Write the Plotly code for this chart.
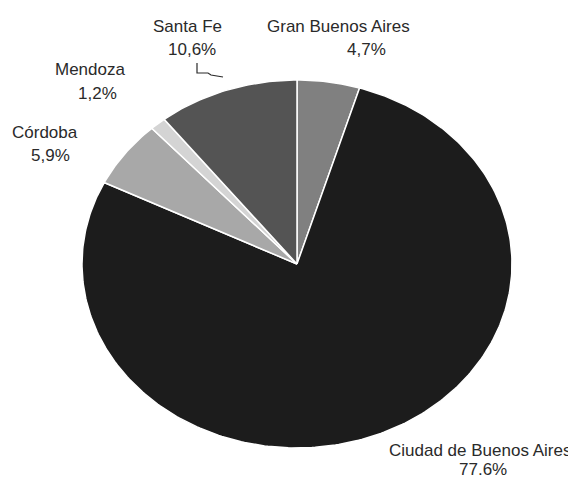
import numpy as np
import plotly.graph_objects as go

# Data (clockwise from 12 o'clock)
regions = ["Gran Buenos Aires", "Ciudad de Buenos Aires", "Córdoba", "Mendoza", "Santa Fe"]
shares = [4.7, 77.6, 5.9, 1.2, 10.6]
share_labels = ["4,7%", "77.6%", "5,9%", "1,2%", "10,6%"]
colors = ["#808080", "#1c1c1c", "#a8a8a8", "#d4d4d4", "#545454"]

W, H = 576, 481
OFF = 8  # page body margin
cx, cy, rx, ry = 297, 264, 215, 184

fig = go.Figure()
total = sum(shares)
start = 0.0
for name, v, c in zip(regions, shares, colors):
    end = start + v / total
    t = np.linspace(start, end, max(int((end - start) * 400), 8)) * 2 * np.pi
    xs = np.concatenate([[cx], cx + rx * np.sin(t), [cx]])
    ys = np.concatenate([[cy], cy - ry * np.cos(t), [cy]])
    fig.add_trace(go.Scatter(x=xs, y=ys, mode="lines", fill="toself",
                             fillcolor=c, line=dict(color="white", width=1.5),
                             name=name, hoverinfo="name", showlegend=False))
    start = end

# Label placement (name line, percent line), window pixels, with x anchors
name_pos = {
    "Gran Buenos Aires": (338, 26, "center"),
    "Ciudad de Buenos Aires": (573, 450, "right"),
    "Córdoba": (45, 132, "center"),
    "Mendoza": (90, 69, "center"),
    "Santa Fe": (187, 26, "center"),
}
pct_pos = {
    "Gran Buenos Aires": (366, 49),
    "Ciudad de Buenos Aires": (483, 469),
    "Córdoba": (50, 155),
    "Mendoza": (97, 93),
    "Santa Fe": (192, 49),
}
font = dict(family="Liberation Sans, Arial, sans-serif", size=17, color="#2a2a2a")
for name, lab in zip(regions, share_labels):
    x, y, anc = name_pos[name]
    fig.add_annotation(x=x, y=y, xref="x", yref="y", text=name, showarrow=False,
                       xanchor=anc, yanchor="middle", font=font)
    x, y = pct_pos[name]
    fig.add_annotation(x=x, y=y, xref="x", yref="y", text=lab, showarrow=False,
                       xanchor="center", yanchor="middle", font=font)

# Santa Fe leader
fig.add_shape(type="path", path="M 197 63 L 197 73 L 208 73 L 211 75 L 223 77",
              xref="x", yref="y", line=dict(color="#2a2a2a", width=1.2))

fig.update_xaxes(range=[OFF, W], visible=False, fixedrange=True)
fig.update_yaxes(range=[H, OFF], visible=False, fixedrange=True)
fig.update_layout(width=W - OFF, height=H - OFF, margin=dict(l=0, r=0, t=0, b=0),
                  paper_bgcolor="white", plot_bgcolor="white")
fig.write_html("out.html")
